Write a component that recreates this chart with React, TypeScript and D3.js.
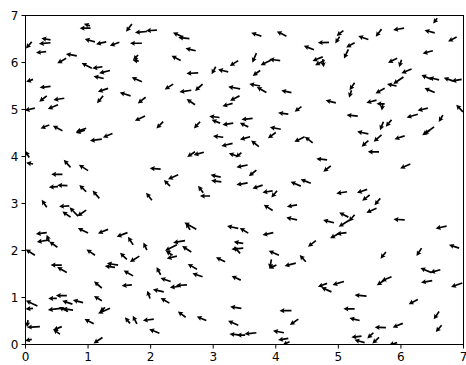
import React from 'react';
import * as d3 from 'd3';

// arrow tails (data units) and components (u to the right, v upward)
const arrowX = [
  1.04, 1.03, 1.70, 0.10, 0.40, 0.40, 0.33, 1.11, 1.29, 1.50,
  1.86, 0.65, 0.82, 1.06, 1.23, 1.35, 1.25, 1.86, 0.12, 0.40,
  1.32, 1.68, 0.34, 0.62, 1.24, 0.52, 0.15, 1.94, 2.10, 2.52,
  2.62, 1.80, 1.81, 2.72, 2.48, 3.40, 3.24, 3.04, 2.76, 2.36,
  2.65, 2.83, 3.43, 1.92, 2.71, 3.42, 3.31, 1.91, 2.20, 2.79,
  3.10, 3.11, 3.32, 3.63, 3.56, 3.77, 4.17, 5.08, 4.85, 5.02,
  4.61, 5.26, 5.16, 3.69, 3.92, 4.07, 4.75, 4.78, 4.75, 3.75,
  3.75, 3.85, 4.25, 5.26, 5.21, 4.96, 4.41, 4.20, 5.31, 6.58,
  6.05, 6.54, 5.48, 5.69, 6.89, 6.51, 5.94, 6.01, 6.17, 6.49,
  6.61, 6.97, 6.83, 6.04, 5.93, 5.74, 6.54, 5.61, 5.74, 5.71,
  6.99, 6.27, 6.43, 6.67, 5.72, 5.85, 0.38, 0.59, 0.97, 0.95,
  1.22, 1.39, 0.06, 0.12, 0.72, 1.00, 0.59, 0.52, 0.67, 0.97,
  1.18, 0.34, 0.70, 0.84, 0.97, 0.72, 0.34, 1.00, 1.32, 3.16,
  3.31, 3.59, 2.71, 2.85, 3.38, 3.45, 2.16, 2.31, 2.44, 3.12,
  3.13, 3.55, 3.55, 2.02, 2.84, 2.95, 2.73, 2.63, 3.40, 3.56,
  4.08, 4.00, 3.73, 4.46, 4.59, 4.82, 4.88, 3.69, 4.40, 4.56,
  3.79, 3.95, 4.02, 5.14, 3.95, 4.34, 4.34, 5.16, 4.93, 5.18,
  5.26, 3.96, 5.13, 5.02, 5.48, 5.48, 5.69, 6.06, 6.53, 6.46,
  5.65, 6.15, 5.46, 5.50, 5.67, 5.61, 6.06, 6.73, 1.63, 0.36,
  0.51, 0.38, 1.72, 0.15, 1.11, 1.62, 0.58, 0.66, 1.48, 1.43,
  1.72, 1.22, 1.70, 0.50, 0.66, 0.19, 0.12, 0.75, 0.92, 1.22,
  0.56, 0.76, 0.68, 1.35, 1.27, 1.09, 0.23, 0.04, 0.58, 0.55,
  1.67, 1.23, 0.10, 1.94, 2.55, 2.42, 2.42, 2.35, 2.65, 1.82,
  3.19, 3.48, 3.48, 3.43, 2.16, 2.32, 2.74, 2.83, 2.58, 2.47,
  3.44, 1.99, 2.21, 2.30, 2.56, 2.89, 3.45, 1.78, 2.05, 2.14,
  3.40, 3.45, 3.51, 4.64, 4.05, 4.48, 3.93, 4.01, 4.32, 4.82,
  4.89, 5.09, 4.25, 4.36, 5.26, 5.34, 3.69, 4.13, 4.20, 4.22,
  5.37, 5.76, 6.33, 6.93, 6.49, 6.63, 5.85, 5.74, 6.50, 6.98,
  5.45, 6.27, 6.61, 5.76, 6.03, 6.65, 5.42, 5.56, 5.65, 5.94,
];
const arrowY = [
  6.73, 6.78, 6.82, 6.44, 6.48, 6.42, 6.23, 6.44, 6.44, 6.43,
  6.41, 6.09, 6.14, 5.88, 5.91, 5.83, 5.66, 5.59, 5.64, 5.49,
  5.45, 5.29, 5.29, 5.24, 5.29, 5.10, 5.03, 6.66, 6.69, 6.54,
  6.51, 6.16, 6.03, 6.25, 6.04, 6.04, 5.80, 5.91, 5.78, 5.54,
  5.41, 5.54, 5.44, 5.26, 5.10, 5.29, 5.13, 4.86, 4.74, 4.74,
  4.83, 4.71, 4.71, 4.81, 4.63, 6.56, 6.56, 6.68, 6.43, 6.55,
  6.27, 6.42, 6.28, 6.20, 6.05, 6.04, 6.12, 6.05, 6.07, 5.83,
  5.50, 5.36, 5.36, 5.57, 5.41, 5.14, 5.06, 4.90, 4.86, 6.94,
  6.73, 6.63, 6.49, 6.71, 6.54, 6.25, 6.09, 6.06, 5.86, 5.64,
  5.63, 5.64, 5.61, 5.69, 5.50, 5.45, 5.36, 5.20, 5.12, 5.13,
  4.95, 4.90, 5.03, 4.88, 4.74, 4.78, 4.67, 4.55, 4.60, 4.56,
  4.37, 4.49, 3.98, 3.84, 3.77, 3.70, 3.62, 3.36, 3.38, 3.25,
  3.11, 2.92, 2.95, 2.73, 2.86, 2.71, 2.38, 2.37, 2.45, 4.41,
  4.28, 4.42, 4.10, 4.09, 4.01, 4.08, 3.73, 3.37, 3.61, 3.56,
  3.46, 3.82, 3.44, 3.07, 3.23, 3.16, 2.45, 2.44, 2.47, 2.37,
  4.58, 4.51, 4.21, 4.42, 4.29, 3.93, 3.80, 3.71, 3.37, 3.43,
  3.39, 3.27, 3.27, 3.25, 2.85, 2.97, 2.65, 2.71, 2.59, 2.65,
  2.76, 2.38, 2.38, 2.37, 4.48, 4.34, 4.46, 4.44, 4.63, 4.56,
  4.10, 3.84, 3.30, 3.18, 3.11, 2.90, 2.65, 2.52, 2.38, 2.22,
  2.07, 2.19, 2.12, 1.90, 1.90, 1.81, 1.69, 1.53, 1.69, 1.64,
  1.46, 1.20, 1.27, 0.98, 1.04, 0.82, 0.77, 0.86, 0.89, 0.93,
  0.77, 0.73, 0.70, 0.77, 0.79, 0.44, 0.38, 0.52, 0.38, 0.22,
  0.45, 0.15, 0.11, 2.01, 2.21, 2.12, 1.88, 1.90, 1.97, 1.88,
  1.76, 2.15, 2.05, 1.94, 1.48, 1.34, 1.60, 1.44, 1.27, 1.24,
  1.37, 0.98, 1.12, 0.88, 0.58, 0.51, 0.77, 0.44, 0.54, 0.24,
  0.41, 0.20, 0.20, 2.21, 1.90, 1.76, 1.81, 1.69, 1.73, 1.30,
  1.12, 1.34, 0.72, 0.54, 0.76, 0.51, 0.25, 0.25, 0.13, 0.06,
  0.18, 1.97, 2.05, 2.05, 1.53, 1.59, 1.44, 1.37, 1.36, 1.31,
  1.03, 0.96, 0.70, 0.36, 0.45, 0.41, 0.04, 0.25, 0.15, 0.04,
];
const arrowU = [
  -10.7, -6, -5.7, -5.7, -9, -11.4, -10, -10, -10, -9.3,
  -11.7, -8.7, -10.7, -10, -10, -10.7, -10, -10, -6.7, -10.7,
  -10, -10.7, -7.4, -10.7, -6, -10, -10, -11.7, -10.7, -10,
  -11, -5, -6, -10, -9, -8.3, -10, -4, -11.6, -8.3,
  -11.7, -7.4, -11.7, -7.7, -8.3, -9.3, -10, -10, -6.6, -6,
  -10, -8.3, -10.6, -11, -8.3, -10, -9.4, -6.6, -11, -4.3,
  -10, -8.3, -4.3, -4, -10, -10.7, -10, -9.3, 1, -7.3,
  -10.7, -9.4, -10, -5, -2.4, -10, -6.7, -10, -11, -4,
  -10.7, -10, -10, -5.7, -8.4, -10, -9, -2.4, -10, -10,
  -10, -10, -9, -10, -9.4, -9, -10, -10, -8, -1,
  -6.5, -11, -10, -4, -3.3, -5.7, -8.6, -9.4, -10, -9,
  -11.7, -9.4, -4, -6.7, -6.7, -9, -11, -9, -10, -6.7,
  -6.6, -5, -10, -8.3, -8.7, -8, -10.7, -10, -10, -10,
  -11, -10, -7.7, -10, -8, -5.7, -10.7, -6, -10, -10,
  -10, -11, -11, -5.7, -5, -10, -11.7, -4, -11, -8.3,
  -10.7, -7.7, -7.6, -10, -7.7, -10.6, -7.4, -7.4, -10, -10,
  -10, -10, -5.6, -10.6, -8.7, -10, -10.6, -9, -10.7, -10.7,
  -5.7, -10.6, -10, -9.3, -11, -6.6, -7.7, -10, -10, -7.3,
  -11, -10, -10, -7.3, -5.7, -10, -11, -10.7, -10.6, -11,
  -8, -2.6, -5, -9, -8.3, -6.7, -11, -9.4, -11, -10,
  -9.3, -7.7, -10, -8.4, -10.7, -11.3, -7.3, -10, -10, -7.7,
  -12.4, -10.6, -9, -11.7, -5, -9, -12.7, -1, -8.4, -6.7,
  -5, -8.7, -6.7, -3.4, -11.7, -11.7, -10, -6.7, -9, -9.3,
  -9, -9.3, -11.6, -6, -4, -10, -9, -10, -10.7, -10,
  -9, -2.7, -10.7, -8.6, -7.7, -9.4, -11, -4, -10.7, -10,
  -10, -11.7, -8.3, -7.7, -10, -6, -1.7, -7.4, -11, -9,
  -10, -11.3, -11.7, -8.3, -11, -10, -11.7, -10.7, -10, -6.7,
  -10, -5.3, -5, -10, -11, -10, -10, -7.7, -11, -11,
  -11.7, -9, -5.3, -11, -10, -5.7, -10, -6, -6.6, -8,
];
const arrowV = [
  0, 2, -7.7, -6.6, 1.7, -1, -1, 2.7, -2.3, -3.4,
  0, -5, 2, 5, -1.6, -2.6, 2.3, 4.4, -2.4, -1,
  -3.4, 3.3, -5.7, -1.7, -7.3, -4, -2.4, -1, -0.7, 4.6,
  1, -5, 1, 2.4, 4.7, -5.3, 2.4, -7.3, -0.6, -5.3,
  -1.7, -6.7, 2, -6, 5.7, -4.7, -2.7, -4.7, -6.6, -6.6,
  1.3, 3.3, -1.7, -1, 4, 3.3, 4.7, -5.3, -0.4, -6.6,
  4, -4.6, -9, -9.4, -5, 1.4, -4, -5, -8, -5.3,
  2, 5.4, 2, -7.3, -7.3, 2.7, -5, 1.3, 1, -5,
  -1.7, 2.7, 3.3, -7.4, -4.4, -2.6, -4.4, -7.3, -4, 4.3,
  2.3, -1.7, 3, -6.7, 2, -5, 4.4, -2.7, 0, -7,
  7, -3.3, -2.4, -6.7, -8.3, -6.7, -3.3, 4.7, -3.4, -2.7,
  -1.7, -4, 6.6, 1.3, 7.3, 5.7, 0, -0.6, 0.4, 6.7,
  7.6, 7.3, -0.7, 8.7, -6, 5.6, -1.3, 5, -4, 1.3,
  -2.7, -2.6, -5, -2.7, 2.7, -4.6, 1, 6, -4.3, 2.3,
  1.3, -2.3, -2, 7.3, 6.7, 0, 6.6, 6.7, 2.3, 5,
  2, -5.6, 6, -5, 6, 1, -5.7, -6, 4.3, 4,
  -3.3, -1.6, -6.6, -1.6, 5.7, -1.7, 2.3, 4.6, 2.7, -6.7,
  -6.7, -2.3, -1.3, -5, 2.3, -6, -6.7, -3.3, -7.3, -5,
  0, -4.3, -3.4, -5.7, -6.7, -4.4, 0.7, -2.3, -4, -1.7,
  5.6, 6.7, 8, 5.7, 5.7, 6.6, 0, 5.4, 1.7, 1.3,
  5.3, 6.6, -1, 0, 0, 5.3, -0.7, 3.3, 2.7, 4.7,
  -1.7, 1.7, 4.4, -5, -4.4, 4.7, -0.6, -7, -3.3, 4.7,
  6, -6, -1.4, 7.3, -2, -5.7, -2.3, 4.3, 5.7, -5.7,
  4.4, 1.6, -1, 6.6, 7.7, 3.4, 5.3, 3.4, -0.7, -1.3,
  4, 7.6, 2.4, 5, 5.6, 4, 1.6, 8, -1.4, 4,
  4.3, 1, 0, -6, 4.3, 6.7, -9, -3.3, -2.7, -3.4,
  4.4, -3.3, 0, -5.7, 0, 2.4, -1.3, 2, -1.7, -3.3,
  -1.3, -6.6, -7.7, 3.3, 4.4, -2.7, -4, -5, -2, -4,
  1, -4.7, -7.6, 0.4, -4, -6.7, 2.7, -5.6, -6, -2.3,
];
const xTicks = [0, 1, 2, 3, 4, 5, 6, 7];
const yTicks = [0, 1, 2, 3, 4, 5, 6, 7];

const W = 466;
const H = 365;
const left = 25.5, right = 463.5, top = 15.5, bottom = 344.5;

// quiver-style arrow outline, shaft + head, in pixels
function arrowPath(tx, ty, dx, dy) {
  const len = Math.hypot(dx, dy);
  const ux = dx / len, uy = dy / len;
  const nx = -uy, ny = ux;
  const hw = 0.85, headHalf = 2.6, headLen = 5.0, headAxis = 4.4;
  const p = (a, b) => [tx + ux * a + nx * b, ty + uy * a + ny * b];
  const pts = [
    p(0, hw), p(len - headAxis, hw), p(len - headLen, headHalf), p(len, 0),
    p(len - headLen, -headHalf), p(len - headAxis, -hw), p(0, -hw),
  ];
  return 'M' + pts.map(q => q[0].toFixed(2) + ',' + q[1].toFixed(2)).join('L') + 'Z';
}

export default function App() {
  const xScale = d3.scaleLinear().domain([0, 7]).range([left, right]);
  const yScale = d3.scaleLinear().domain([0, 7]).range([bottom, top]);
  const lenScale = d3.scaleLinear().domain([0, 1]).range([0, 1.02]);

  return (
    <svg width={W} height={H} style={{ position: 'absolute', left: 0, top: 0, background: '#fff' }}
      fontFamily="DejaVu Sans" fontSize={12}>
      <defs>
        <clipPath id="plotArea">
          <rect x={left} y={top} width={right - left} height={bottom - top} />
        </clipPath>
      </defs>
      <rect x={0} y={0} width={W} height={H} fill="#fff" />
      <g clipPath="url(#plotArea)">
        {arrowX.map((x, i) => (
          <path key={i}
            d={arrowPath(xScale(x), yScale(arrowY[i]), lenScale(arrowU[i]), -lenScale(arrowV[i]))}
            fill="#000" />
        ))}
      </g>
      <rect x={left} y={top} width={right - left} height={bottom - top} fill="none" stroke="#000" strokeWidth={1} />
      {xTicks.map(t => (
        <g key={'x' + t}>
          <line x1={xScale(t)} x2={xScale(t)} y1={bottom} y2={bottom + 4} stroke="#000" />
          <text x={xScale(t)} y={bottom + 16} textAnchor="middle">{t}</text>
        </g>
      ))}
      {yTicks.map(t => (
        <g key={'y' + t}>
          <line x1={left - 4} x2={left} y1={yScale(t)} y2={yScale(t)} stroke="#000" />
          <text x={left - 7} y={yScale(t) + 4.3} textAnchor="end">{t}</text>
        </g>
      ))}
    </svg>
  );
}
